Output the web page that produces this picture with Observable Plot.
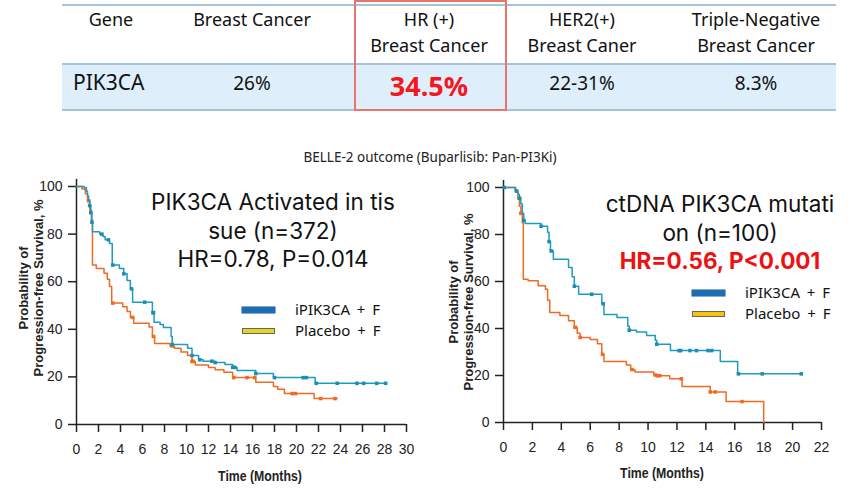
<!DOCTYPE html>
<html><head><meta charset="utf-8">
<script src="https://cdn.jsdelivr.net/npm/d3@7"></script>
<script src="https://cdn.jsdelivr.net/npm/@observablehq/plot@0.6"></script>
<style>
body{margin:0;background:#fff;}
#page{position:relative;width:860px;height:488px;overflow:hidden;font-family:"Noto Sans","Noto Sans CJK KR",sans-serif;color:#111;background:#fff;}
.abs{position:absolute;}
.ctr{position:absolute;transform:translateX(-50%);text-align:center;white-space:nowrap;}
.hd{font-size:18px;line-height:26px;top:6px;}
.cell{font-size:19px;line-height:26px;top:70px;}
.ann{font-family:Inter,"Noto Sans",sans-serif;font-size:22.5px;line-height:28.5px;color:#111;}
.leg{position:absolute;font-size:15px;line-height:20px;white-space:nowrap;color:#111;word-spacing:3px;}
.ytitle{position:absolute;transform:translate(-50%,-50%) rotate(-90deg);font-family:"Liberation Sans",Arial,sans-serif;font-weight:bold;font-size:13px;line-height:15px;text-align:center;white-space:nowrap;color:#222;}
.xtitle{position:absolute;transform:translate(-50%,-50%) scaleX(0.82);font-family:"Liberation Sans",Arial,sans-serif;font-weight:bold;font-size:15px;white-space:nowrap;color:#222;}
.chart{position:absolute;}
</style>
</head><body><div id="page"></div>
<script>
// ---------- table data ----------
const tableHeaders = ["Gene", "Breast Cancer", "HR (+)\nBreast Cancer", "HER2(+)\nBreast Caner", "Triple-Negative\nBreast Cancer"];
const tableValues = ["PIK3CA", "26%", "34.5%", "22-31%", "8.3%"];
const sectionTitle = "BELLE-2 outcome (Buparlisib: Pan-PI3Ki)";

// ---------- chart texts ----------
const leftTitle = ["PIK3CA Activated in tis", "sue (n=372)", "HR=0.78, P=0.014"];
const rightTitle = ["ctDNA PIK3CA mutati", "on (n=100)", "HR=0.56, P<0.001"];
const seriesNames = ["iPIK3CA + F", "Placebo + F"];
const yTitle = ["Probability of", "Progression-free Survival, %"];
const xTitle = "Time (Months)";

// ---------- ticks ----------
const xTicksLeft = [0,2,4,6,8,10,12,14,16,18,20,22,24,26,28,30];
const xTicksRight = [0,2,4,6,8,10,12,14,16,18,20,22];
const yTicks = [0,20,40,60,80,100];

// ---------- Kaplan-Meier steps: [month, survival %] ----------
const leftDrug = [[0,100],[0.7,99.5],[0.9,98],[1.0,96],[1.1,94],[1.2,92],[1.3,89],[1.4,85],[1.45,81],[2.1,80],[2.4,79],[2.6,77.6],[3.0,76],[3.25,67],[3.9,65.5],[4.3,63.3],[4.6,60.5],[4.9,57],[5.1,51.4],[6.9,47],[7.05,43],[7.6,42],[7.9,40.8],[8.6,37],[8.7,33.6],[10.1,32],[10.5,29],[11.1,27.2],[11.5,26.6],[12.6,26],[13.5,25.2],[14.2,24],[14.6,22.7],[16.3,21.4],[17.9,19.7],[21.7,17.3],[28.2,17.3]];
const leftPlacebo = [[0,100],[0.5,99],[0.8,97],[1.0,94],[1.2,90],[1.35,86],[1.45,67],[1.8,65.5],[2.5,63.5],[2.8,61],[3.0,58],[3.2,51],[4.2,49.5],[4.6,47.5],[4.9,45],[5.2,42.5],[6.6,41],[6.9,37],[7.1,34],[8.5,33],[8.9,32],[9.5,30.5],[10.1,29],[10.5,26.5],[10.8,25],[12.0,24],[12.6,23],[13.4,22],[14.2,19.7],[16.3,17.7],[17.9,16],[18.3,14.8],[18.9,13],[21.6,10.9],[23.7,10.9]];
const leftDrugCensor = [1.2,1.3,1.4,2.3,2.9,3.3,4.3,5.0,6.2,6.95,7.0,8.7,10.5,11.2,12.3,12.6,14.2,14.4,16.3,18.0,20.6,20.9,21.8,23.7,25.5,26.1,27.3,28.1];
const leftPlaceboCensor = [1.1,3.3,5.1,7.0,8.7,10.5,10.6,14.3,15.5,16.2,19.6,19.9,22.2,23.5];

const rightDrug = [[0,100],[0.8,98.5],[1.0,97],[1.1,95.5],[1.2,93],[1.3,89],[1.4,86],[1.5,84.7],[2.6,83.5],[3.05,81],[3.15,77],[3.25,73],[3.45,69.5],[4.5,66],[4.75,62],[4.9,58],[5.2,54.6],[6.8,50.5],[6.95,46],[7.85,44.7],[8.6,41],[8.7,39.3],[9.2,38.5],[9.9,37],[10.5,35],[10.6,33.3],[11.55,30.6],[15.0,26],[16.2,20.7],[20.6,20.7]];
const rightPlacebo = [[0,100],[0.85,98],[1.0,95],[1.1,92],[1.2,89],[1.3,85],[1.37,61],[1.7,60.3],[2.4,58.2],[2.9,56.7],[3.05,52],[3.2,46.8],[3.9,45.5],[4.5,43.3],[4.9,40.5],[5.1,38],[5.3,36.2],[6.0,35.3],[6.5,33.5],[6.8,29],[6.95,26],[8.5,24.5],[8.8,22.5],[9.1,21.5],[10.4,20.2],[10.6,19.9],[11.5,18.6],[12.35,15.3],[14.3,13],[15.4,8.9],[18.0,0]];
const rightDrugCensor = [0.05,0.9,1.1,1.4,2.6,3.15,3.3,4.9,6.1,6.9,8.7,10.6,12.15,12.25,12.9,13.35,14.15,14.4,16.25,17.9,20.6];
const rightPlaceboCensor = [1.2,4.95,5.3,6.85,8.9,10.5,10.65,10.8,12.3,14.3,14.65,16.5];

// ---------- styling ----------
const blue = "#1f9bbf", orange = "#f06a22";
const page = document.getElementById("page");

function add(html, cls, style){ const d=document.createElement("div"); d.className=cls; d.innerHTML=html; Object.assign(d.style, style); page.appendChild(d); return d; }

// table decoration
const lineColor = "#a7c3dc";
add("", "abs", {left:"62px", top:"63px", width:"774px", height:"47px", background:"#dfeefb"});
add("", "abs", {left:"62px", top:"4px", width:"774px", height:"1.5px", background:lineColor});
add("", "abs", {left:"62px", top:"63px", width:"774px", height:"1.5px", background:lineColor});
add("", "abs", {left:"62px", top:"109px", width:"774px", height:"1.5px", background:lineColor});
add("", "abs", {left:"354px", top:"0px", width:"149px", height:"107px", border:"2px solid #e8756c"});

const colX = [111, 252, 429, 582, 756];
tableHeaders.forEach((h,i)=> add(h.replace("\n","<br>"), "ctr hd", {left: colX[i]+"px"}));
tableValues.forEach((v,i)=>{
  if(i===0) add(v, "abs cell", {left:"73px", fontSize:"21px", top:"69px"});
  else if(i===2) add(v, "ctr", {left: colX[i]+"px", top:"66px", fontSize:"27px", lineHeight:"40px", fontWeight:"bold", color:"#f5171e"});
  else add(v, "ctr cell", {left: colX[i]+"px"});
});
add(sectionTitle, "ctr", {left:"430px", top:"147px", fontSize:"13.5px", lineHeight:"20px", color:"#222"});

function survAt(data, t){ let s=data[0][1]; for(const d of data){ if(d[0]<=t) s=d[1]; } return s; }

function km(opts){
  const {drug, placebo, drugC, placeboC, xmax, xticks, width, height, ml, mr, mt, mb} = opts;
  return Plot.plot({
    width, height, marginLeft:ml, marginRight:mr, marginTop:mt, marginBottom:mb,
    x:{domain:[0,xmax]}, y:{domain:[0,100]},
    style:{fontFamily:"'Liberation Sans Narrow','Arial Narrow','Liberation Sans',sans-serif", fontSize:"14px", color:"#222", background:"transparent", overflow:"visible"},
    marks:[
      Plot.axisX({ticks:xticks, tickSize:8, tickPadding:12, label:null, strokeWidth:1.5}),
      Plot.axisY({ticks:yTicks, tickSize:8, tickPadding:6, label:null, strokeWidth:1.5}),
      Plot.ruleY([0], {stroke:"#222", strokeWidth:1.5}),
      Plot.ruleX([0], {y1:0, y2:103, stroke:"#222", strokeWidth:1.5}),
      Plot.line(placebo, {x:d=>d[0], y:d=>d[1], curve:"step-after", stroke:orange, strokeWidth:1.5}),
      Plot.dot(placeboC.map(t=>[t, survAt(placebo,t)]), {x:d=>d[0], y:d=>d[1], r:2, fill:orange, symbol:"square"}),
      Plot.line(drug, {x:d=>d[0], y:d=>d[1], curve:"step-after", stroke:blue, strokeWidth:1.5}),
      Plot.dot(drugC.map(t=>[t, survAt(drug,t)]), {x:d=>d[0], y:d=>d[1], r:2, fill:"#1a8fb3", symbol:"square"})
    ]
  });
}

const L = km({drug:leftDrug, placebo:leftPlacebo, drugC:leftDrugCensor, placeboC:leftPlaceboCensor, xmax:30, xticks:xTicksLeft, width:420, height:318, ml:76, mr:14, mt:16, mb:64});
L.classList.add("chart"); L.style.left="0px"; L.style.top="170px"; page.appendChild(L);
const R = km({drug:rightDrug, placebo:rightPlacebo, drugC:rightDrugCensor, placeboC:rightPlaceboCensor, xmax:22, xticks:xTicksRight, width:430, height:318, ml:73, mr:39, mt:17, mb:66});
R.classList.add("chart"); R.style.left="430px"; R.style.top="170px"; page.appendChild(R);

// axis titles
add(yTitle.join("<br>"), "ytitle", {left:"31px", top:"288px"});
add(yTitle.join("<br>"), "ytitle", {left:"461px", top:"302px"});
add(xTitle, "xtitle", {left:"260px", top:"475px"});
add(xTitle, "xtitle", {left:"662px", top:"472px"});

// annotations: one div per line
function annot(lines, cx, top, lastStyle){
  lines.forEach((t,i)=>{
    const d = add(t, "ctr ann", {left: cx+"px", top:(top + i*28.5)+"px"});
    if(i===lines.length-1 && lastStyle) Object.assign(d.style, lastStyle);
  });
}
annot(leftTitle, 273, 188);
annot(rightTitle, 720, 190, {color:"#ee1111", fontWeight:"bold"});

// legends
function legend(x, y1, y2, placeboFill){
  add("", "abs", {left:x+"px", top:(y1-3)+"px", width:"33px", height:"6px", background:"#1b6db5", boxShadow:"0 0 0 0.5px #164f86"});
  add("", "abs", {left:x+"px", top:(y2-3)+"px", width:"31px", height:"4px", background:placeboFill, border:"1px solid #666"});
  add(seriesNames[0], "leg", {left:(x+53)+"px", top:(y1-11)+"px"});
  add(seriesNames[1], "leg", {left:(x+53)+"px", top:(y2-11)+"px"});
}
legend(242, 310, 331, "#e6d323");
legend(692, 293, 314, "#f6c40c");
</script>
</body></html>
